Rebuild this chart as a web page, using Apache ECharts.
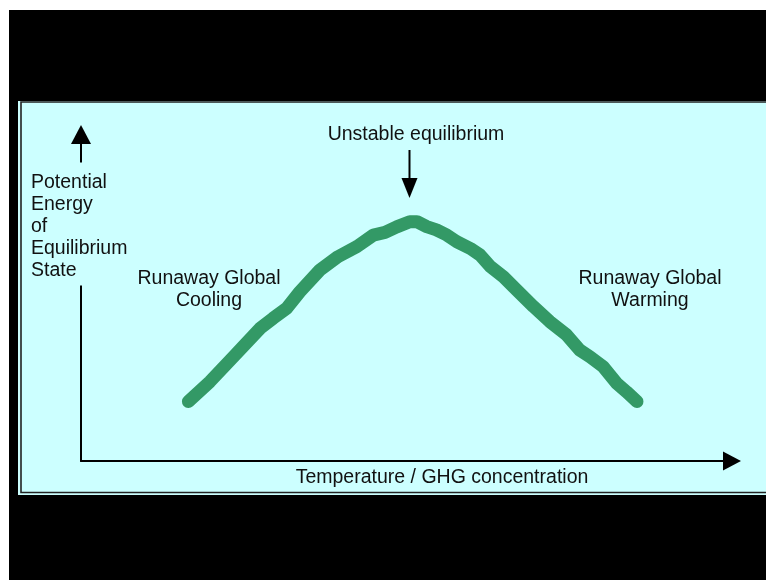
<!DOCTYPE html>
<html>
<head>
<meta charset="utf-8">
<script src="https://cdn.jsdelivr.net/npm/echarts@6/dist/echarts.min.js"></script>
<style>
  html, body { margin: 0; padding: 0; background: #fff; }
  #chart { width: 766px; height: 580px; }
</style>
</head>
<body>
<div id="chart"></div>
<script>
// curve: x = temperature / GHG (0..100), y = potential energy (0..100)
const temperature = [16.5, 19.8, 23.4, 27.5, 29.5, 31.6, 33.6, 36.7, 39.5, 42.4, 44.9, 46.7, 48.5, 50.5, 51.6,
  53.1, 54.6, 56.2, 57.7, 59.8, 61.3, 62.8, 64.9, 66.9, 69.5, 72.0, 74.6, 76.6, 78.2, 80.2, 82.3, 83.8, 85.4];
const energy = [18.2, 24.3, 31.9, 40.6, 43.7, 46.8, 51.8, 58.5, 62.6, 65.7, 69.2, 70.0, 71.7, 73.3, 73.3,
  71.8, 70.8, 69.2, 67.2, 65.1, 63.1, 59.7, 56.4, 52.4, 47.3, 42.7, 38.6, 34.0, 31.9, 28.9, 23.8, 21.2, 18.2];

const yLabel = ['Potential', 'Energy', 'of', 'Equilibrium', 'State'];
const xLabel = 'Temperature / GHG concentration';
const peakLabel = 'Unstable equilibrium';
const leftLabel = ['Runaway Global', 'Cooling'];
const rightLabel = ['Runaway Global', 'Warming'];

const font = '"Liberation Sans", Arial, sans-serif';
const bg = '#ccffff';

const chart = echarts.init(document.getElementById('chart'));

const textStyle = (text, align) => ({
  text: text,
  font: '19.5px ' + font,
  fill: '#111',
  textAlign: align,
  textVerticalAlign: 'top',
  lineHeight: 22
});

chart.setOption({
  backgroundColor: '#fff',
  animation: false,
  grid: { left: 81, right: 34, top: 134.5, bottom: 119, containLabel: false },
  xAxis: {
    type: 'value', min: 0, max: 100,
    axisLine: { show: true, onZero: true, symbol: ['none', 'triangle'], symbolSize: [19, 18],
      lineStyle: { color: '#000', width: 2 } },
    axisTick: { show: false }, axisLabel: { show: false }, splitLine: { show: false }
  },
  yAxis: {
    type: 'value', min: 0, max: 100,
    axisLine: { show: true, symbol: ['none', 'triangle'], symbolSize: [20, 19],
      lineStyle: { color: '#000', width: 2 } },
    axisTick: { show: false }, axisLabel: { show: false }, splitLine: { show: false }
  },
  series: [{
    type: 'line',
    data: temperature.map((t, i) => [t, energy[i]]),
    showSymbol: false,
    smooth: false,
    lineStyle: { color: '#339966', width: 13, cap: 'round', join: 'round' },
    z: 3
  }],
  graphic: [
    { type: 'rect', z: -30, shape: { x: 9, y: 10, width: 757, height: 570 }, style: { fill: '#000' } },
    { type: 'rect', z: -20, shape: { x: 18, y: 101, width: 748, height: 394 }, style: { fill: bg } },
    { type: 'rect', z: -10, shape: { x: 21, y: 102, width: 760, height: 390.5 },
      style: { fill: 'none', stroke: '#222', lineWidth: 1.6 } },
    // y axis caption, its box hides the axis line behind it
    { type: 'text', z: 50, x: 31, y: 162.5,
      style: Object.assign(textStyle(yLabel.join('\n'), 'left'), { backgroundColor: bg, padding: [9, 4, 4, 0] }) },
    { type: 'text', z: 50, x: 209, y: 267.5, style: textStyle(leftLabel.join('\n'), 'center') },
    { type: 'text', z: 50, x: 650, y: 267.5, style: textStyle(rightLabel.join('\n'), 'center') },
    { type: 'text', z: 50, x: 416, y: 124, style: textStyle(peakLabel, 'center') },
    { type: 'text', z: 50, x: 442, y: 467, style: textStyle(xLabel, 'center') },
    // arrow pointing at the peak
    { type: 'line', z: 50, shape: { x1: 409.5, y1: 150, x2: 409.5, y2: 180 }, style: { stroke: '#000', lineWidth: 2 } },
    { type: 'polygon', z: 50, shape: { points: [[401.5, 178], [417.5, 178], [409.5, 198]] }, style: { fill: '#000' } }
  ]
});
</script>
</body>
</html>
